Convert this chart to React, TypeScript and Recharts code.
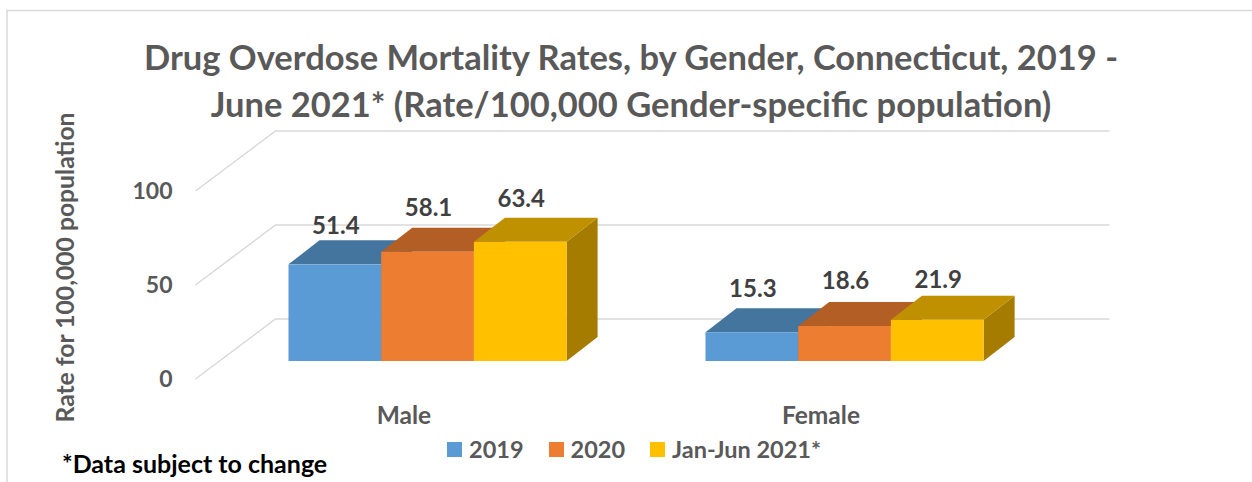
import { BarChart, Bar, XAxis, YAxis, CartesianGrid, LabelList, Legend } from 'recharts'

const CATEGORIES = ['Male', 'Female']
const RATE_2019 = [51.4, 15.3]
const RATE_2020 = [58.1, 18.6]
const RATE_2021 = [63.4, 21.9]
const Y_TICKS = [0, 50, 100]
const TITLE_LINES = [
  'Drug Overdose Mortality Rates, by Gender, Connecticut, 2019 -',
  'June 2021* (Rate/100,000 Gender-specific population)',
]

const data = CATEGORIES.map((category, i) => ({
  category,
  y2019: RATE_2019[i],
  y2020: RATE_2020[i],
  y2021: RATE_2021[i],
}))

// front, top and side face of each series
const SERIES = [
  { key: 'y2019', name: '2019', front: '#5B9BD5', top: '#44759F', side: '#37608A', lift: [40, 45] },
  { key: 'y2020', name: '2020', front: '#ED7D31', top: '#B25E25', side: '#9A511F', lift: [45, 47] },
  { key: 'y2021', name: 'Jan-Jun 2021*', front: '#FFC000', top: '#BF9000', side: '#A57C00', lift: [44, 41] },
]

const FONT = 'Lato, sans-serif'
const GREY = '#595959'
const DEPTH_X = 31
const DEPTH_Y = 24

function Block({ x, y, width, height, front, top, side }: any) {
  const r = x + width
  const b = y + height
  return (
    <g>
      <path d={`M${r} ${y}L${r + DEPTH_X} ${y - DEPTH_Y}V${b - DEPTH_Y}L${r} ${b}Z`} fill={side} />
      <path d={`M${x} ${y}L${x + DEPTH_X} ${y - DEPTH_Y}H${r + DEPTH_X}L${r} ${y}Z`} fill={top} />
      <rect x={x} y={y} width={width} height={height} fill={front} />
    </g>
  )
}

// gridline: runs in along the side wall, then across the back wall
function WallLine({ x1, x2, y1, key }: any) {
  return (
    <path
      key={key}
      d={`M${x1 - 24} ${y1 + 18}L${x1 + 56} ${y1 - 42}H${x2 + 56}`}
      fill="none"
      stroke="#D9D9D9"
      strokeWidth={1.5}
    />
  )
}

function ValueLabel({ x, y, width, value, index, lift }: any) {
  return (
    <text
      x={x + width / 2 + 1}
      y={y - lift[index]}
      textAnchor="middle"
      dominantBaseline="central"
      fontFamily={FONT}
      fontWeight={700}
      fontSize={24}
      fill="#404040"
    >
      {value}
    </text>
  )
}

function LegendRow() {
  return (
    <div style={{ display: 'flex', alignItems: 'center', fontFamily: FONT, fontWeight: 700, fontSize: 23.5, color: GREY, lineHeight: '24px' }}>
      {SERIES.map((s) => (
        <div key={s.key} style={{ display: 'flex', alignItems: 'center', marginRight: 25 }}>
          <span style={{ width: 15, height: 15, background: s.front, marginRight: 7, display: 'inline-block' }} />
          {s.name}
        </div>
      ))}
    </div>
  )
}

export default function App() {
  return (
    <div style={{ position: 'absolute', left: 0, top: 0, width: 1252, height: 482, background: '#fff', overflow: 'hidden' }}>
      <BarChart
        width={1252}
        height={482}
        data={data}
        margin={{ top: 173, right: 198.5, bottom: 61, left: 159.5 }}
        barSize={92.7}
        barGap={0}
      >
        <path d="M7 482V10.5H1252" fill="none" stroke="#D9D9D9" strokeWidth={1.5} />
        {TITLE_LINES.map((line, i) => (
          <text key={line} x={631} y={56 + i * 47} textAnchor="middle" dominantBaseline="central" fontFamily={FONT} fontWeight={700} fontSize={34.5} fill={GREY}>
            {line}
          </text>
        ))}
        <text
          transform="translate(64 267.5) rotate(-90)"
          textAnchor="middle"
          dominantBaseline="central"
          fontFamily={FONT}
          fontWeight={700}
          fontSize={24.7}
          fill={GREY}
        >
          Rate for 100,000 population
        </text>
        <text x={62} y={463} dominantBaseline="central" fontFamily={FONT} fontWeight={700} fontSize={25} fill="#000">
          *Data subject to change
        </text>
        <CartesianGrid vertical={false} horizontal={WallLine as any} />
        <XAxis
          dataKey="category"
          height={60}
          axisLine={false}
          tickLine={false}
          tickMargin={40}
          tick={{ dx: -24, fill: GREY, fontFamily: FONT, fontWeight: 700, fontSize: 24.5 }}
        />
        <YAxis
          domain={[0, 100]}
          ticks={Y_TICKS}
          width={60}
          axisLine={false}
          tickLine={false}
          tickMargin={41}
          tick={{ dy: 18, fill: GREY, fontFamily: FONT, fontWeight: 700, fontSize: 23 }}
        />
        <Legend
          layout="vertical"
          align="center"
          verticalAlign="middle"
          wrapperStyle={{ left: 447, top: 437, width: 440, height: 24 }}
          content={<LegendRow />}
        />
        {SERIES.map((s) => (
          <Bar
            key={s.key}
            dataKey={s.key}
            name={s.name}
            fill={s.front}
            isAnimationActive={false}
            shape={(p: any) => <Block {...p} front={s.front} top={s.top} side={s.side} />}
          >
            <LabelList dataKey={s.key} content={(p: any) => <ValueLabel {...p} lift={s.lift} />} />
          </Bar>
        ))}
      </BarChart>
    </div>
  )
}
